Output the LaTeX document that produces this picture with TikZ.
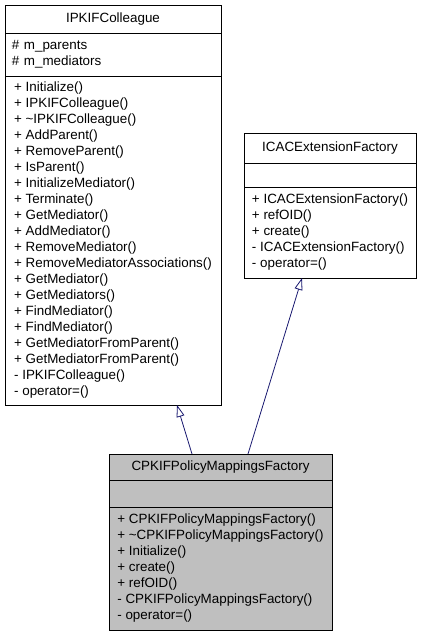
\documentclass[tikz,border=0pt]{standalone}
\usepackage{fontspec}
\setmainfont{Liberation Sans}
\usetikzlibrary{positioning,arrows.meta}
\definecolor{inhc}{rgb}{0.1,0.1,0.44}
\definecolor{curc}{rgb}{0.75,0.75,0.75}

\begin{document}
\begin{tikzpicture}[x=1pt, y=-1pt, font=\fontsize{13.4}{16}\selectfont,
    part/.style={draw, rectangle, line width=1pt, outer sep=0pt, inner xsep=0pt, inner ysep=0pt},
    title/.style={part, align=center},
    list/.style={part, align=left}]

    \useasboundingbox (0,0) rectangle (421,635);

    % base class IPKIFColleague
    \node[title, anchor=north west, minimum width=216pt, minimum height=28pt] (colTitle) at (5,5) {IPKIFColleague};
    \node[list, below=0pt of colTitle, text width=202pt, minimum width=216pt, minimum height=43pt] (colAttr) {\# m\_parents\\\# m\_mediators};
    \node[list, below=0pt of colAttr, minimum width=216pt, minimum height=329pt] (colMeth) {+ Initialize()\\+ IPKIFColleague()\\+ \textasciitilde IPKIFColleague()\\+ AddParent()\\+ RemoveParent()\\+ IsParent()\\+ InitializeMediator()\\+ Terminate()\\+ GetMediator()\\+ AddMediator()\\+ RemoveMediator()\\+ RemoveMediatorAssociations()\\+ GetMediator()\\+ GetMediators()\\+ FindMediator()\\+ FindMediator()\\+ GetMediatorFromParent()\\+ GetMediatorFromParent()\\- IPKIFColleague()\\- operator=()};

    % base class ICACExtensionFactory
    \node[title, anchor=north west, minimum width=172pt, minimum height=30pt] (extTitle) at (244,133) {ICACExtensionFactory};
    \node[list, below=0pt of extTitle, minimum width=172pt, minimum height=24pt] (extAttr) {};
    \node[list, below=0pt of extAttr, minimum width=172pt, minimum height=91pt] (extMeth) {+ ICACExtensionFactory()\\+ refOID()\\+ create()\\- ICACExtensionFactory()\\- operator=()};

    % derived class
    \node[title, fill=curc, anchor=north west, minimum width=223pt, minimum height=26pt] (cpkTitle) at (109,454) {CPKIFPolicyMappingsFactory};
    \node[list, fill=curc, below=0pt of cpkTitle, minimum width=223pt, minimum height=27pt] (cpkAttr) {};
    \node[list, fill=curc, below=0pt of cpkAttr, minimum width=223pt, minimum height=123pt] (cpkMeth) {+ CPKIFPolicyMappingsFactory()\\+ \textasciitilde CPKIFPolicyMappingsFactory()\\+ Initialize()\\+ create()\\+ refOID()\\- CPKIFPolicyMappingsFactory()\\- operator=()};

    \draw[color=inhc, line width=0.8pt, -{Triangle[open, length=12pt, width=8pt]}] ([xshift=83pt]cpkTitle.north west) -- ([xshift=172pt]colMeth.south west);
    \draw[color=inhc, line width=0.8pt, -{Triangle[open, length=12pt, width=8pt]}] ([xshift=139pt]cpkTitle.north west) -- ([xshift=58pt]extMeth.south west);

\end{tikzpicture}
\end{document}
